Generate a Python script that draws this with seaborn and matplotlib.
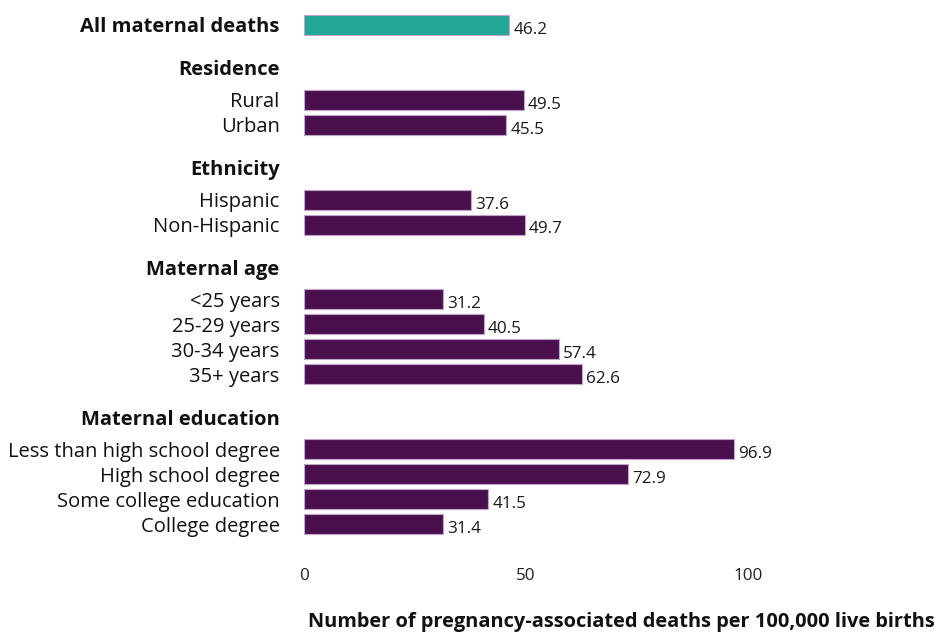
import matplotlib
matplotlib.use("Agg")
import matplotlib.pyplot as plt
import seaborn as sns
import pandas as pd

categories = ["All maternal deaths", "Rural", "Urban", "Hispanic", "Non-Hispanic",
              "<25 years", "25-29 years", "30-34 years", "35+ years",
              "Less than high school degree", "High school degree",
              "Some college education", "College degree"]
values = [46.2, 49.5, 45.5, 37.6, 49.7, 31.2, 40.5, 57.4, 62.6, 96.9, 72.9, 41.5, 31.4]
groups = ["All", "Residence", "Residence", "Ethnicity", "Ethnicity",
          "Maternal age", "Maternal age", "Maternal age", "Maternal age",
          "Maternal education", "Maternal education", "Maternal education", "Maternal education"]
group_headers = ["Residence", "Ethnicity", "Maternal age", "Maternal education"]
x_ticks = [0, 50, 100]
x_label = "Number of pregnancy-associated deaths per 100,000 live births"

sns.set_theme(style="white")
plt.rcParams["font.family"] = ["Open Sans", "DejaVu Sans"]

# compute layout positions
positions = []
tick_pos, tick_lab, tick_bold = [], [], []
prev_group = None
p = 0.0
for i, (c, g) in enumerate(zip(categories, groups)):
    if i == 0:
        p = 0.0
        tick_pos.append(p); tick_lab.append(c); tick_bold.append(True)
    elif g != prev_group:
        tick_pos.append(p + 1.72); tick_lab.append(g); tick_bold.append(True)
        p = p + 3
        tick_pos.append(p); tick_lab.append(c); tick_bold.append(False)
    else:
        p = p + 1
        tick_pos.append(p); tick_lab.append(c); tick_bold.append(False)
    positions.append(p)
    prev_group = g

df = pd.DataFrame({"category": categories, "value": values, "group": groups,
                   "pos": positions})
df["kind"] = ["total" if g == "All" else "sub" for g in groups]

fig = plt.figure(figsize=(9.37, 6.37), dpi=100)
W, H = 937, 637
ax = fig.add_axes([304 / W, 1 - 539 / H, (748 - 304) / W, (539 - 10) / H])

sns.barplot(data=df, x="value", y="pos", hue="kind", orient="h", native_scale=True,
            palette={"total": "#22a796", "sub": "#4a104e"}, dodge=False, saturation=1,
            width=0.8, legend=False, edgecolor="#c2a3cc", linewidth=0.8, ax=ax)

for cont in ax.containers:
    labs = ax.bar_label(cont, fmt="%.1f", padding=3, fontsize=12.3, color="#1a1a1a")
    for t in labs:
        t.xyann = (t.xyann[0], -3.5)

ax.set_xlim(0, 100)
ax.set_ylim(20.6, -0.6)
ax.set_xticks(x_ticks)
ax.set_xticklabels([str(v) for v in x_ticks])
ax.set_yticks(tick_pos)
ax.set_yticklabels(tick_lab)
for lab, b in zip(ax.get_yticklabels(), tick_bold):
    lab.set_fontweight("bold" if b else "normal")
    lab.set_fontsize(14.5)
    lab.set_color("#111111")
ax.tick_params(axis="y", length=0, pad=17.5)
ax.tick_params(axis="x", length=0, pad=21, labelsize=12.3, labelcolor="#222222")
ax.set_xlabel("")
ax.set_ylabel("")
for s in ax.spines.values():
    s.set_visible(False)
ax.grid(False)

fig.text(935 / W, 1 - 622 / H, x_label, ha="right", va="center",
         fontsize=14.4, fontweight="bold", color="#111111")

fig.savefig("out.png", dpi=100, facecolor="white")
